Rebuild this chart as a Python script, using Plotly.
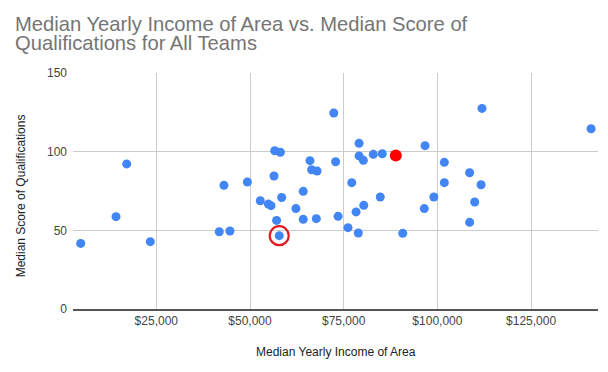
import plotly.graph_objects as go

# Median yearly income of area (USD) and median qualification score for all teams
income = [4830, 14250, 17100, 23400, 41800, 44650, 43050, 49300,
          72350, 79100, 56600, 58100, 96700, 79100, 80250, 82900, 85300,
          66000, 72850, 66450, 67900, 56400, 77150, 52750, 54900, 55600,
          58450, 64200, 62250, 57100, 57800, 64200, 67700, 73500, 76150,
          78900, 78300, 80350, 84750, 90750, 96500, 99050,
          111900, 141000, 101850, 108600, 101850, 111650, 109950, 108600]
score = [41.7, 58.7, 92.2, 42.8, 49.1, 49.6, 78.6, 80.7,
         124.6, 105.3, 100.6, 99.6, 103.8, 97.3, 94.5, 98.3, 98.7,
         94.3, 93.6, 88.5, 87.7, 84.5, 80.3, 68.8, 66.7, 65.7,
         70.9, 74.8, 63.8, 56.3, 46.6, 57.0, 57.4, 58.9, 51.7,
         48.3, 61.7, 65.9, 71.2, 48.1, 63.8, 71.2,
         127.5, 114.6, 93.2, 86.6, 80.3, 79.0, 68.0, 55.1]

# Highlighted team (red point) and circled team (index into the arrays above)
team_income = [88900]
team_score = [97.6]
circled_index = 30

x_ticks = [25000, 50000, 75000, 100000, 125000]
x_tick_labels = ["$25,000", "$50,000", "$75,000", "$100,000", "$125,000"]
y_ticks = [0, 50, 100, 150]

FONT = "Liberation Sans, Arial, sans-serif"

# The page body has an 8px default margin; plot area target in window pixels
BODY = 8
PL, PR, PT, PB = 73, 598, 73, 309.3
W, H = 608, 372
PW, PH = PR - PL, PB - PT


def px(xw):
    return (xw - PL) / PW


def py(yw):
    return (PB - yw) / PH


fig = go.Figure()
fig.add_trace(go.Scatter(
    x=income, y=score, mode="markers",
    marker=dict(color="#4285F4", size=9, line=dict(width=0)),
    hoverinfo="x+y", showlegend=False))
fig.add_trace(go.Scatter(
    x=team_income, y=team_score, mode="markers",
    marker=dict(color="#FF0000", size=12, line=dict(width=0)),
    showlegend=False))
fig.add_trace(go.Scatter(
    x=[income[circled_index]], y=[score[circled_index]], mode="markers",
    marker=dict(symbol="circle-open", color="#E2191F", size=19,
                line=dict(width=2.2, color="#E2191F")),
    showlegend=False))

fig.update_layout(
    width=W, height=H,
    margin=dict(l=PL - BODY, r=W - (PR - BODY), t=PT - BODY,
                b=H - (PB - BODY), pad=0, autoexpand=False),
    paper_bgcolor="white", plot_bgcolor="white",
    font=dict(family=FONT, size=12, color="#444444"),
    xaxis=dict(range=[2776, 142850], tickvals=x_ticks, ticktext=x_tick_labels,
               showgrid=True, gridcolor="#cccccc", gridwidth=1,
               zeroline=False, showline=True, linecolor="#555555", linewidth=1.5,
               ticks="", tickfont=dict(size=12, color="#444444")),
    yaxis=dict(range=[0, 150], tickvals=y_ticks,
               showgrid=True, gridcolor="#cccccc", gridwidth=1,
               zeroline=False, showline=False, ticks="",
               ticklabelstandoff=5,
               tickfont=dict(size=12, color="#444444")),
    annotations=[
        dict(text="Median Yearly Income of Area vs. Median Score of",
             xref="paper", yref="paper", x=px(13), y=py(36.5),
             xanchor="left", yanchor="bottom", showarrow=False,
             font=dict(size=20.2, color="#757575", family=FONT)),
        dict(text="Qualifications for All Teams",
             xref="paper", yref="paper", x=px(13), y=py(55.5),
             xanchor="left", yanchor="bottom", showarrow=False,
             font=dict(size=20.2, color="#757575", family=FONT)),
        dict(text="Median Yearly Income of Area",
             xref="paper", yref="paper", x=px(336), y=py(352),
             xanchor="center", yanchor="middle", showarrow=False,
             font=dict(size=12, color="#222222", family=FONT)),
        dict(text="Median Score of Qualifications",
             xref="paper", yref="paper", x=px(20.5), y=py(196),
             xanchor="center", yanchor="middle", showarrow=False, textangle=-90,
             font=dict(size=12, color="#222222", family=FONT)),
    ],
)

fig.write_html("out.html")
